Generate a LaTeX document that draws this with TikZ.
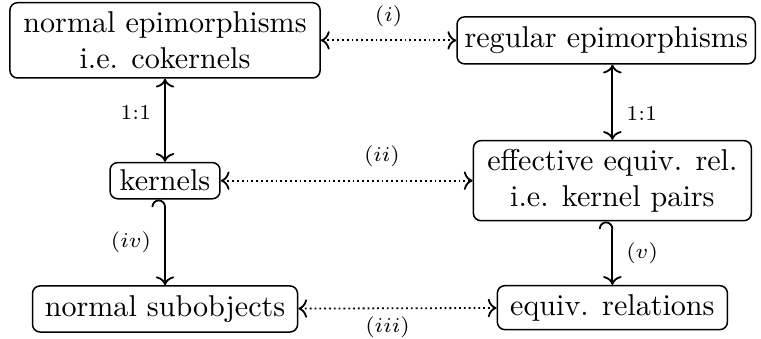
\documentclass[tikz,border=0pt]{standalone}
\usetikzlibrary{positioning,arrows.meta}

\begin{document}
\begin{tikzpicture}[
  cls/.style={draw, rounded corners=2.5pt, line width=0.5pt, inner xsep=2.5pt, inner ysep=2pt, align=center},
  corr/.style={{Computer Modern Rightarrow}-{Computer Modern Rightarrow}, densely dotted, line width=0.6pt},
  bij/.style={{Computer Modern Rightarrow}-{Computer Modern Rightarrow}, line width=0.6pt},
  incl/.style={{Hooks[left, width=9pt, length=2.5pt]}-{Computer Modern Rightarrow}, line width=0.6pt},
  lab/.style={font=\scriptsize}]

\useasboundingbox (-54.8pt,13.4pt) rectangle (197.9pt,-99.1pt);

\node[cls, minimum width=103pt, minimum height=25pt] (normepi) at (0,0) {normal epimorphisms\\i.e. cokernels};
\node[cls, minimum width=98.6pt, minimum height=15.6pt, right=15.8mm of normepi] (regepi) {regular epimorphisms};
\node[cls, minimum width=36.5pt, minimum height=12pt, below=9.7mm of normepi] (kern) {kernels};
\node[cls, minimum width=92.3pt, minimum height=26.6pt, right=29.4mm of kern] (effrel) {effective equiv. rel.\\i.e. kernel pairs};
\node[cls, minimum width=88pt, minimum height=15.3pt, below=10mm of kern] (normsub) {normal subobjects};
\node[cls, minimum width=76.4pt, minimum height=14.6pt, below=7.4mm of effrel] (equivrel) {equiv. relations};

\draw[corr] (normepi) -- node[lab, above=1pt] {$(i)$} (regepi);
\draw[corr] (kern) -- node[lab, above=1pt, pos=0.64] {$(ii)$} (effrel);
\draw[corr] (normsub) -- node[lab, below=-1pt, pos=0.45] {$(iii)$} (equivrel);
\draw[bij] (normepi) -- node[lab, left=1pt, pos=0.41] {1:1} (kern);
\draw[bij] (effrel.north) -- node[lab, right=1pt, pos=0.35] {1:1} (effrel.north |- regepi.south);
\draw[incl] (kern) -- node[lab, left=1pt] {$(iv)$} (kern.south |- normsub.north);
\draw[incl] (effrel) -- node[lab, right=1pt] {$(v)$} (equivrel);
\end{tikzpicture}
\end{document}
